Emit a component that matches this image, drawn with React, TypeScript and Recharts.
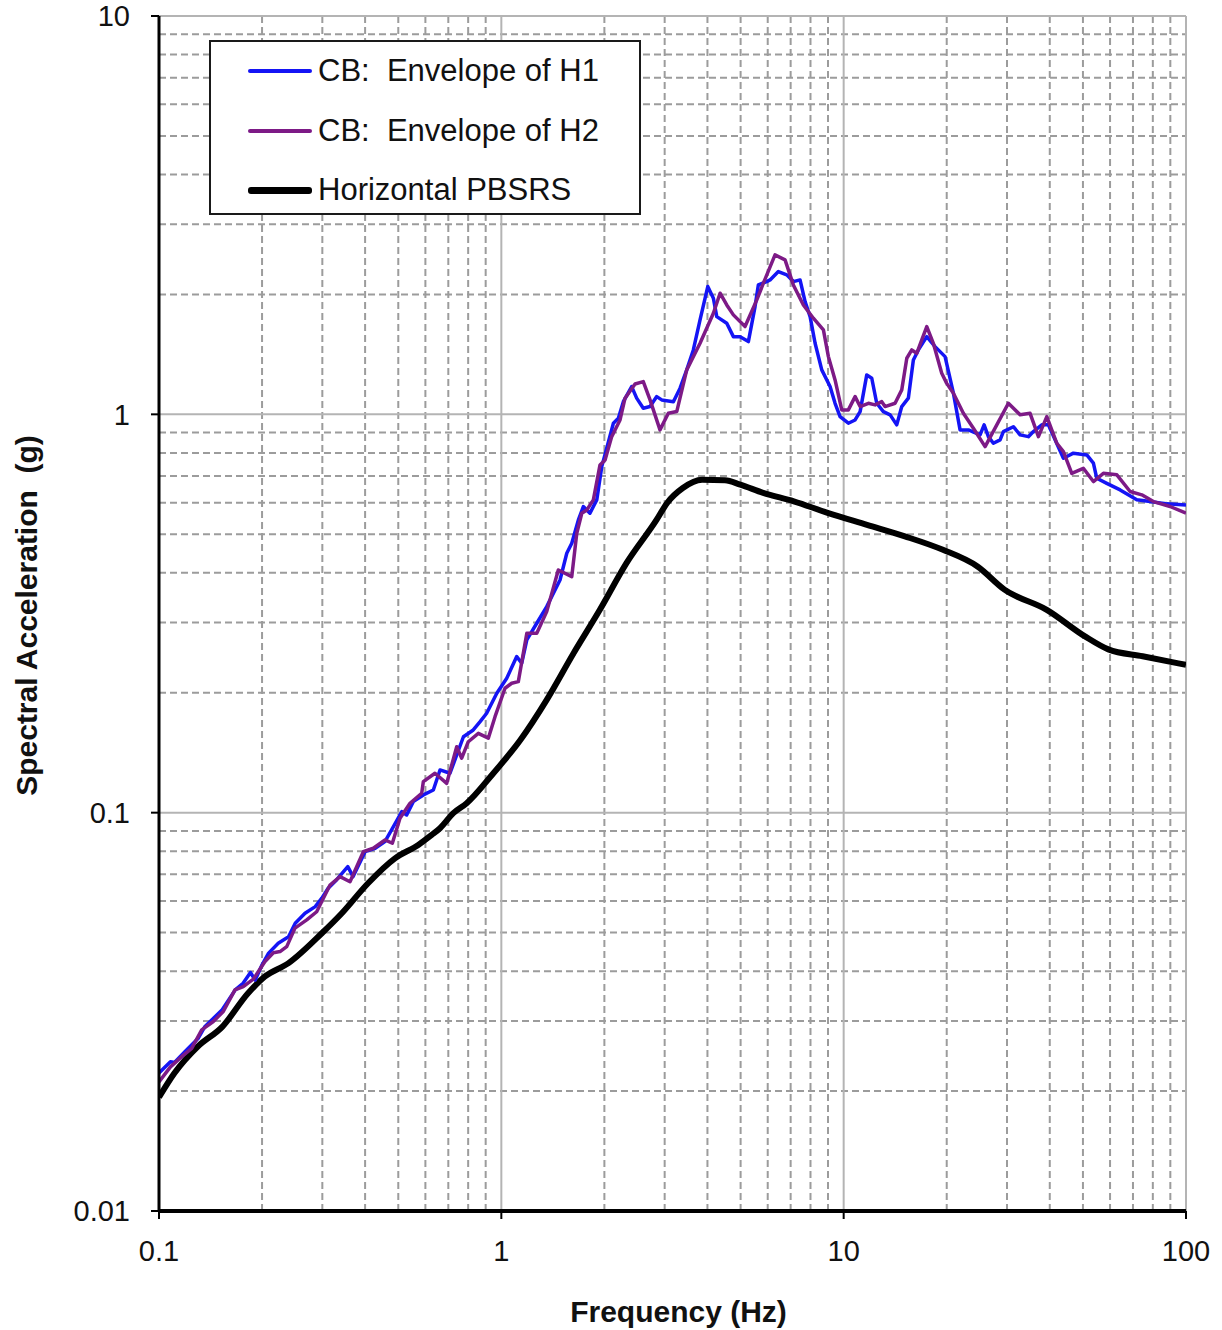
import {
  LineChart, Line, XAxis, YAxis, CartesianGrid, Legend, Label,
} from "recharts";

const C = {
  blue: "#1414f5",
  purple: "#7d1a86",
  black: "#000000",
  gridMinor: "#9c9c9c",
  gridMajor: "#b4b4b4",
  text: "#111111",
  font: "'Liberation Sans', Arial, Helvetica, sans-serif",
} as const;

// Horizontal PBSRS (black)
const pbsrsFreq = [0.1, 0.111, 0.13, 0.153, 0.182, 0.204, 0.239, 0.299, 0.342, 0.408, 0.489, 0.572, 0.626, 0.662, 0.724, 0.792, 0.948, 1.135, 1.357, 1.624, 1.94, 2.32, 2.84, 3.05, 3.39, 3.86, 4.5, 4.99, 5.82, 7.15, 9.02, 11.7, 15.1, 19.5, 24.6, 29.5, 39.2, 50.7, 59.3, 74.7, 100];
const pbsrsSa = [0.0193, 0.0222, 0.0259, 0.029, 0.0352, 0.0388, 0.0419, 0.0498, 0.0559, 0.0665, 0.0768, 0.083, 0.0879, 0.0914, 0.0997, 0.1056, 0.1256, 0.152, 0.192, 0.251, 0.323, 0.423, 0.543, 0.599, 0.653, 0.685, 0.683, 0.666, 0.635, 0.605, 0.565, 0.528, 0.494, 0.457, 0.415, 0.363, 0.323, 0.277, 0.257, 0.247, 0.235];

// CB: Envelope of H1 (blue)
const h1Freq = [0.1, 0.108, 0.111, 0.119, 0.13, 0.136, 0.153, 0.167, 0.176, 0.185, 0.191, 0.2, 0.209, 0.223, 0.239, 0.25, 0.267, 0.286, 0.299, 0.312, 0.33, 0.356, 0.369, 0.4, 0.428, 0.457, 0.478, 0.512, 0.529, 0.553, 0.592, 0.633, 0.662, 0.708, 0.775, 0.828, 0.867, 0.906, 0.97, 1.037, 1.109, 1.147, 1.187, 1.269, 1.357, 1.484, 1.553, 1.606, 1.679, 1.736, 1.815, 1.9, 1.965, 2.125, 2.197, 2.272, 2.403, 2.485, 2.598, 2.719, 2.844, 2.941, 3.181, 3.327, 3.48, 3.638, 3.806, 4.009, 4.163, 4.259, 4.555, 4.762, 4.982, 5.268, 5.51, 5.633, 5.96, 6.095, 6.445, 6.82, 7.13, 7.458, 7.714, 7.979, 8.252, 8.63, 9.126, 9.438, 9.761, 10.32, 10.8, 11.17, 11.68, 12.08, 12.49, 13.06, 13.67, 14.29, 14.78, 15.45, 15.98, 16.53, 17.49, 18.49, 19.78, 20.92, 21.88, 23.14, 25.03, 25.72, 26.47, 27.37, 28.64, 29.28, 31.31, 32.76, 34.64, 35.83, 37.91, 39.63, 41.46, 43.84, 46.88, 51.31, 53.64, 54.88, 58.69, 64.21, 71.82, 78.56, 87.86, 100];
const h1Sa = [0.0222, 0.0237, 0.0236, 0.0251, 0.0271, 0.029, 0.032, 0.0359, 0.0373, 0.0397, 0.038, 0.0415, 0.0444, 0.047, 0.0488, 0.0528, 0.0559, 0.0581, 0.061, 0.0646, 0.0678, 0.0732, 0.0691, 0.0798, 0.0814, 0.0846, 0.0905, 0.1006, 0.0987, 0.1066, 0.1108, 0.114, 0.128, 0.1256, 0.1551, 0.1613, 0.1692, 0.1777, 0.1994, 0.2175, 0.2465, 0.2372, 0.2714, 0.2989, 0.329, 0.3839, 0.4481, 0.4747, 0.5431, 0.5866, 0.5646, 0.6098, 0.7391, 0.95, 0.978, 1.076, 1.174, 1.098, 1.036, 1.046, 1.108, 1.087, 1.076, 1.163, 1.293, 1.451, 1.726, 2.093, 1.956, 1.759, 1.693, 1.567, 1.567, 1.523, 1.864, 2.113, 2.154, 2.175, 2.282, 2.239, 2.154, 2.175, 1.919, 1.759, 1.508, 1.293, 1.174, 1.066, 0.987, 0.95, 0.968, 1.016, 1.256, 1.232, 1.066, 1.016, 0.997, 0.941, 1.046, 1.098, 1.369, 1.451, 1.567, 1.479, 1.396, 1.13, 0.914, 0.914, 0.888, 0.941, 0.879, 0.846, 0.863, 0.905, 0.931, 0.888, 0.879, 0.905, 0.941, 0.941, 0.863, 0.776, 0.799, 0.791, 0.754, 0.691, 0.671, 0.646, 0.61, 0.604, 0.596, 0.592];

// CB: Envelope of H2 (purple)
const h2Freq = [0.1, 0.108, 0.1165, 0.1246, 0.1333, 0.1441, 0.1541, 0.1667, 0.1763, 0.1886, 0.204, 0.2158, 0.2257, 0.2361, 0.2496, 0.2701, 0.2888, 0.3159, 0.3379, 0.3614, 0.3953, 0.4227, 0.4573, 0.4804, 0.5058, 0.541, 0.5853, 0.5917, 0.64, 0.6925, 0.7407, 0.766, 0.8008, 0.8566, 0.9162, 0.9585, 1.025, 1.072, 1.121, 1.187, 1.269, 1.357, 1.467, 1.606, 1.661, 1.718, 1.777, 1.857, 1.942, 2.009, 2.101, 2.222, 2.298, 2.458, 2.598, 2.719, 2.907, 3.075, 3.254, 3.48, 3.806, 4.163, 4.355, 4.555, 4.762, 5.151, 5.575, 5.827, 6.302, 6.742, 7.13, 7.626, 8.155, 8.726, 9.024, 9.438, 9.872, 10.32, 10.8, 11.17, 11.81, 12.35, 12.92, 13.21, 14.13, 14.78, 15.29, 15.81, 16.35, 16.91, 17.49, 18.28, 19.34, 20.0, 20.92, 22.37, 23.93, 25.89, 28.01, 30.28, 32.76, 35.04, 37.06, 39.21, 41.94, 43.84, 46.38, 50.13, 53.64, 57.37, 62.81, 68.66, 74.28, 80.32, 89.85, 100];
const h2Sa = [0.0211, 0.023, 0.0244, 0.0256, 0.0285, 0.0299, 0.0317, 0.0359, 0.0366, 0.0382, 0.0423, 0.0445, 0.0448, 0.0461, 0.0513, 0.0538, 0.0564, 0.0658, 0.0691, 0.0671, 0.0798, 0.0814, 0.0854, 0.0838, 0.0968, 0.1056, 0.1119, 0.1196, 0.1256, 0.1185, 0.1464, 0.137, 0.1507, 0.1582, 0.1538, 0.1742, 0.2053, 0.2113, 0.2133, 0.2821, 0.2821, 0.3197, 0.4067, 0.3913, 0.5029, 0.5646, 0.5754, 0.6098, 0.7464, 0.7682, 0.8792, 0.9683, 1.098, 1.192, 1.208, 1.087, 0.914, 1.006, 1.016, 1.293, 1.508, 1.794, 2.014, 1.882, 1.777, 1.661, 1.938, 2.134, 2.513, 2.442, 2.113, 1.882, 1.743, 1.629, 1.396, 1.22, 1.026, 1.026, 1.108, 1.046, 1.066, 1.056, 1.076, 1.046, 1.066, 1.152, 1.383, 1.451, 1.423, 1.538, 1.661, 1.508, 1.268, 1.196, 1.13, 1.006, 0.923, 0.83, 0.941, 1.066, 0.997, 1.006, 0.879, 0.987, 0.846, 0.806, 0.711, 0.732, 0.678, 0.711, 0.705, 0.64, 0.628, 0.604, 0.587, 0.565];

// axes / grid
const xTicks = [0.1, 1, 10, 100];
const yTicks = [0.01, 0.1, 1, 10];
const xMinor = [0.2, 0.3, 0.4, 0.5, 0.6, 0.7, 0.8, 0.9, 2, 3, 4, 5, 6, 7, 8, 9, 20, 30, 40, 50, 60, 70, 80, 90];
const yMinor = [0.02, 0.03, 0.04, 0.05, 0.06, 0.07, 0.08, 0.09, 0.2, 0.3, 0.4, 0.5, 0.6, 0.7, 0.8, 0.9, 2, 3, 4, 5, 6, 7, 8, 9];

const legendOrder = ["CB:  Envelope of H1", "CB:  Envelope of H2", "Horizontal PBSRS"];

const toPoints = (f: number[], v: number[]) => f.map((x, i) => ({ f: x, v: v[i] }));
const pbsrs = toPoints(pbsrsFreq, pbsrsSa);
const h1 = toPoints(h1Freq, h1Sa);
const h2 = toPoints(h2Freq, h2Sa);

function LegendBox({ payload }: { payload?: { value: string; color: string }[] }) {
  const items = legendOrder
    .map(name => payload?.find(p => p.value === name))
    .filter(Boolean) as { value: string; color: string }[];
  return (
    <div style={{
      width: 428, height: 171, border: "2px solid #1a1a1a", background: "#fff",
      position: "relative", fontFamily: C.font,
    }}>
      {items.map((it, i) => (
        <div key={it.value} style={{
          position: "absolute", left: 0, top: 9 + i * 59.5, height: 40,
          display: "flex", alignItems: "center",
        }}>
          <div style={{
            marginLeft: 37, width: 64, height: it.color === C.black ? 7 : 4,
            borderRadius: 3, background: it.color,
          }} />
          <span style={{ marginLeft: 6, fontSize: 31, color: C.text, whiteSpace: "pre" }}>
            {it.value}
          </span>
        </div>
      ))}
    </div>
  );
}

function YTitle(props: any) {
  const vb = props.viewBox;
  const cx = vb.x - 53;
  const cy = vb.y + vb.height / 2 + 2;
  return (
    <text x={cx} y={cy} transform={`rotate(-90 ${cx} ${cy})`} textAnchor="middle"
      dominantBaseline="central" fontFamily={C.font} fontWeight="bold" fontSize={30}
      fill={C.text} style={{ whiteSpace: "pre" }}>
      Spectral Acceleration  (g)
    </text>
  );
}

function XTitle(props: any) {
  const vb = props.viewBox;
  return (
    <text x={vb.x + vb.width / 2 + 6} y={vb.y + 111} textAnchor="middle"
      fontFamily={C.font} fontWeight="bold" fontSize={30} fill={C.text}>
      Frequency (Hz)
    </text>
  );
}

const tickStyle = { fontFamily: C.font, fontSize: 29, fill: C.text };

export default function App() {
  return (
    <div style={{ position: "absolute", left: 0, top: 0, width: 1222, height: 1330, background: "#fff" }}>
      <LineChart width={1222} height={1330} margin={{ top: 16, right: 36, left: 79, bottom: 59 }}>
        <CartesianGrid
          verticalValues={xMinor} horizontalValues={yMinor}
          stroke={C.gridMinor} strokeWidth={2} strokeDasharray="7 4" fill="none"
        />
        <CartesianGrid
          verticalValues={xTicks} horizontalValues={yTicks}
          stroke={C.gridMajor} strokeWidth={2} fill="none"
        />
        <XAxis
          type="number" dataKey="f" scale="log" domain={[0.1, 100]} ticks={xTicks}
          allowDataOverflow interval={0} height={60}
          tick={tickStyle} tickSize={8} tickMargin={21}
          axisLine={{ stroke: "#000", strokeWidth: 4 }}
          tickLine={{ stroke: "#000", strokeWidth: 2 }}
        >
          <Label content={<XTitle />} />
        </XAxis>
        <YAxis
          type="number" dataKey="v" scale="log" domain={[0.01, 10]} ticks={yTicks}
          allowDataOverflow interval={0} width={80}
          tick={tickStyle} tickSize={8} tickMargin={21}
          axisLine={{ stroke: "#000", strokeWidth: 3 }}
          tickLine={{ stroke: "#000", strokeWidth: 2 }}
        >
          <Label content={<YTitle />} />
        </YAxis>
        <Legend
          layout="vertical" align="center" verticalAlign="middle"
          content={<LegendBox />}
          wrapperStyle={{ left: 209, top: 40, width: 432, height: 175 }}
        />
        {/* PBSRS is a smooth design curve; envelopes are jagged */}
        <Line data={pbsrs} dataKey="v" name="Horizontal PBSRS" type="monotone"
          stroke={C.black} strokeWidth={6} dot={false} activeDot={false}
          isAnimationActive={false} />
        <Line data={h1} dataKey="v" name="CB:  Envelope of H1" type="linear"
          stroke={C.blue} strokeWidth={3.5} dot={false} activeDot={false}
          strokeLinejoin="round" isAnimationActive={false} />
        <Line data={h2} dataKey="v" name="CB:  Envelope of H2" type="linear"
          stroke={C.purple} strokeWidth={3.5} dot={false} activeDot={false}
          strokeLinejoin="round" isAnimationActive={false} />
      </LineChart>
    </div>
  );
}
